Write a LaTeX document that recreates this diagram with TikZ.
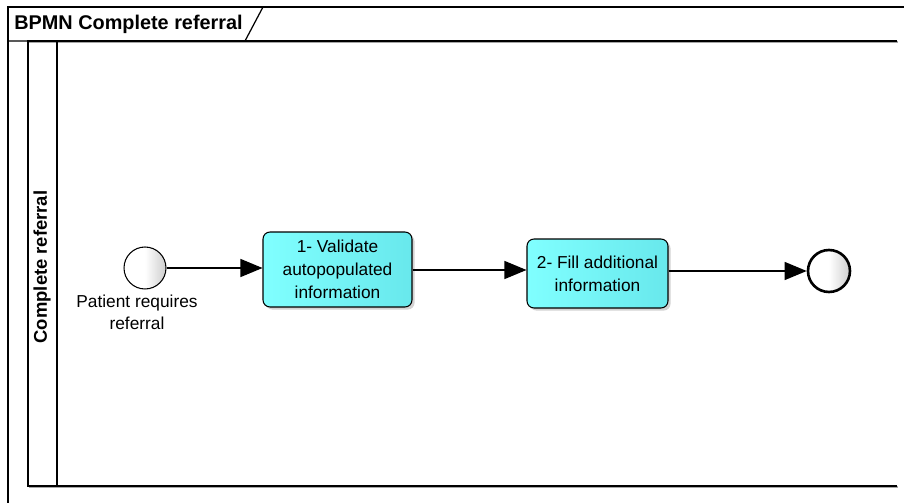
\documentclass[tikz,border=0pt]{standalone}
\usepackage{fontspec}
\setmainfont{Liberation Sans}
\usepackage{tikz}
\usetikzlibrary{arrows.meta}
\usetikzlibrary{shadows}
\definecolor{taskcyan}{RGB}{128,255,255}
\definecolor{taskcyandark}{RGB}{104,232,236}
\definecolor{eventgray}{RGB}{205,205,205}
\tikzset{
	task/.style={draw, rounded corners=4pt, line width=0.6pt, align=center,
		left color=taskcyan, right color=taskcyandark,
		drop shadow={opacity=0.35, shadow xshift=1.5pt, shadow yshift=-1.5pt},
		font=\fontsize{9.85}{13}\selectfont},
	event/.style={draw, circle, minimum size=0.84cm, inner sep=0pt,
		left color=white, right color=eventgray, middle color=white},
	flow/.style={line width=0.7pt, -{Triangle[length=0.44cm, width=0.36cm]}},
	frame/.style={line width=0.7pt}
}
\begin{document}
\begin{tikzpicture}[x=0.02cm, y=-0.02cm]
	\useasboundingbox (0,0) rectangle (904,503);
	% frame and tab
	\draw[frame] (8,503) -- (8,7) -- (904,7);
	\draw[frame] (263,7) -- (245,41) -- (8,41);
	\node[anchor=west, inner sep=0pt, font=\fontsize{11.3}{13}\selectfont\bfseries] (title) at (14,24) {BPMN Complete referral};
	% pool and lane
	\draw[line width=1.6pt, black!35] (29,42) -- (898,42);
	\draw[line width=1.6pt, black!35] (29,487) -- (898,487);
	\draw[frame] (897,41) -- (28,41) -- (28,486) -- (897,486);
	\draw[frame] (57,41) -- (57,486);
	\node[rotate=90, font=\fontsize{10.5}{12}\selectfont\bfseries] (lane) at (42,267) {Complete referral};
	% process
	\node[event, line width=0.6pt] (start) at (145,268) {};
	\node[align=center, font=\fontsize{9.85}{12.5}\selectfont] (startlabel) at (137,312) {Patient requires\\referral};
	\node[task, minimum width=2.98cm, minimum height=1.5cm] (task1) at (337.5,269.5) {1- Validate\\autopopulated\\information};
	\node[task, minimum width=2.82cm, minimum height=1.38cm] (task2) at (597.5,273.5) {2- Fill additional\\information};
	\node[event, line width=1.5pt] (end) at (829,271) {};
	\draw[flow] (start) -- (start -| task1.west);
	\draw[flow] (task1.east |- 0,270) -- (task2.west |- 0,270);
	\draw[flow] (task2.east |- end) -- (end);
\end{tikzpicture}
\end{document}
